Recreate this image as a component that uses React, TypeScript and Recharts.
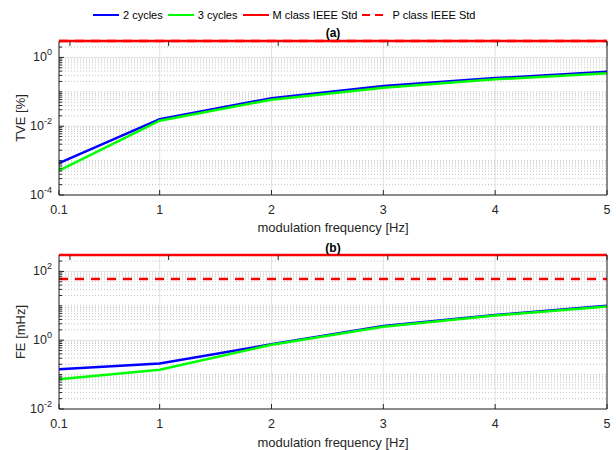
import React from 'react';
import {
  LineChart,
  Line,
  XAxis,
  YAxis,
  CartesianGrid,
  ReferenceLine,
} from 'recharts';

const FONT = '"Liberation Sans", Arial, sans-serif';
const AXIS = '#262626';

// modulation frequency [Hz]
const FREQ = [0.1, 1, 2, 3, 4, 5];

// (a) total vector error [%]
const TVE_2CYC = [8.5e-4, 0.016, 0.065, 0.147, 0.25, 0.385];
const TVE_3CYC = [5.1e-4, 0.0145, 0.059, 0.132, 0.23, 0.345];
const TVE_M_LIMIT = 3;
const TVE_P_LIMIT = 3;

// (b) frequency error [mHz]
const FE_2CYC = [0.143, 0.21, 0.76, 2.6, 5.4, 10.0];
const FE_3CYC = [0.073, 0.138, 0.74, 2.45, 5.2, 9.6];
const FE_M_LIMIT = 300;
const FE_P_LIMIT = 60;

const TVE_MAJOR = [1e-4, 1e-2, 1];
const FE_MAJOR = [1e-2, 1, 1e2];

// all k*10^e inside the domain that are not labelled decades
function minorTicks(lo: number, hi: number, majors: number[]) {
  const out: number[] = [];
  for (let e = Math.floor(Math.log10(lo)); e <= Math.ceil(Math.log10(hi)); e++) {
    for (let k = 1; k < 10; k++) {
      const v = Number((k * Math.pow(10, e)).toPrecision(6));
      if (v > lo && v < hi && !majors.some((m) => Math.abs(m - v) / m < 1e-6)) out.push(v);
    }
  }
  return out;
}

const isMajor = (v: number, majors: number[]) => majors.some((m) => Math.abs(m - v) / m < 1e-6);

type PanelProps = {
  top: number;
  height: number;
  margin: { top: number; bottom: number };
  domain: [number, number];
  majors: number[];
  c2: number[];
  c3: number[];
  mLimit: number;
  pLimit: number;
};

function Panel({ top, height, margin, domain, majors, c2, c3, mLimit, pLimit }: PanelProps) {
  const data = FREQ.map((f, i) => ({ f, c2: c2[i], c3: c3[i], m: mLimit, p: pLimit }));
  const minors = minorTicks(domain[0], domain[1], majors);
  const allTicks = [...minors, ...majors].sort((a, b) => a - b);

  const leftTick = (props: any) => {
    const { x, y, payload } = props;
    const v = payload.value;
    const major = isMajor(v, majors);
    const exp = Math.round(Math.log10(v));
    return (
      <g>
        <line x1={x + 7} x2={x + 7 + (major ? 5 : 3)} y1={y} y2={y} stroke={AXIS} strokeWidth={1} />
        {major && (
          <text x={x} y={y} dy={4} textAnchor="end" fontSize={12.5} fill={AXIS} fontFamily={FONT}>
            10
            <tspan dy={-6} fontSize={9}>
              {exp}
            </tspan>
          </text>
        )}
      </g>
    );
  };

  const rightTick = (props: any) => {
    const { x, y, payload } = props;
    const len = isMajor(payload.value, majors) ? 5 : 3;
    return <line x1={x - len} x2={x} y1={y} y2={y} stroke={AXIS} strokeWidth={1} />;
  };

  const bottomTick = (props: any) => {
    const { x, y, payload } = props;
    return (
      <g>
        <line x1={x} x2={x} y1={y - 5} y2={y} stroke={AXIS} strokeWidth={1} />
        <text x={x} y={y} dy={19} textAnchor="middle" fontSize={12.5} fill={AXIS} fontFamily={FONT}>
          {payload.value}
        </text>
      </g>
    );
  };

  const topTick = (props: any) => {
    const { x, y } = props;
    return <line x1={x} x2={x} y1={y} y2={y + 5} stroke={AXIS} strokeWidth={1} />;
  };

  return (
    <div style={{ position: 'absolute', left: 0, top }}>
      <LineChart
        width={616}
        height={height}
        data={data}
        margin={{ top: margin.top - 10, bottom: margin.bottom - 30, left: 0, right: 0 }}
      >
        <CartesianGrid horizontal={false} stroke="#e2e2e2" strokeDasharray="" />
        {minors.map((v) => (
          <ReferenceLine key={'mi' + v} y={v} stroke="#c4c4c4" strokeDasharray="1 2" />
        ))}
        {majors.map((v) => (
          <ReferenceLine key={'ma' + v} y={v} stroke="#e2e2e2" />
        ))}
        <XAxis
          dataKey="f"
          type="number"
          domain={[FREQ[0], FREQ[FREQ.length - 1]]}
          ticks={FREQ}
          height={30}
          tickSize={0}
          tickMargin={0}
          tickLine={false}
          axisLine={{ stroke: AXIS }}
          tick={bottomTick}
          interval={0}
        />
        {/* top edge is covered by the M class limit line, so only the ticks are drawn */}
        <XAxis
          xAxisId="top"
          orientation="top"
          type="number"
          domain={[FREQ[0], FREQ[FREQ.length - 1]]}
          ticks={FREQ}
          height={10}
          tickSize={0}
          tickMargin={0}
          tickLine={false}
          axisLine={false}
          tick={topTick}
          interval={0}
        />
        <YAxis
          scale="log"
          type="number"
          domain={domain}
          ticks={allTicks}
          width={59}
          tickSize={0}
          tickMargin={7}
          tickLine={false}
          axisLine={{ stroke: AXIS }}
          tick={leftTick}
          interval={0}
        />
        <YAxis
          yAxisId="right"
          orientation="right"
          scale="log"
          type="number"
          domain={domain}
          ticks={allTicks}
          width={9}
          tickSize={0}
          tickMargin={0}
          tickLine={false}
          axisLine={{ stroke: AXIS }}
          tick={rightTick}
          interval={0}
        />
        <Line dataKey="c2" stroke="#0000ff" strokeWidth={2.5} dot={false} isAnimationActive={false} />
        <Line dataKey="c3" stroke="#00ff00" strokeWidth={2.5} dot={false} isAnimationActive={false} />
        <Line dataKey="m" stroke="#ff0000" strokeWidth={2.5} dot={false} isAnimationActive={false} />
        <Line
          dataKey="p"
          stroke="#ff0000"
          strokeWidth={2.5}
          strokeDasharray="9 7"
          dot={false}
          isAnimationActive={false}
        />
      </LineChart>
    </div>
  );
}

const LEGEND = [
  { label: '2 cycles', color: '#0000ff', dash: '' },
  { label: '3 cycles', color: '#00ff00', dash: '' },
  { label: 'M class IEEE Std', color: '#ff0000', dash: '' },
  { label: 'P class IEEE Std', color: '#ff0000', dash: '8 5' },
];

function Legend() {
  return (
    <div
      style={{
        position: 'absolute',
        left: 93,
        top: 7,
        display: 'flex',
        alignItems: 'center',
        fontFamily: FONT,
        fontSize: 11,
        color: '#000',
        whiteSpace: 'nowrap',
      }}
    >
      {LEGEND.map((it) => (
        <div key={it.label} style={{ display: 'flex', alignItems: 'center', marginRight: 5 }}>
          <svg width={26} height={16}>
            <line x1={0} x2={26} y1={8} y2={8} stroke={it.color} strokeWidth={2} strokeDasharray={it.dash} />
          </svg>
          <span style={{ marginLeft: 4 }}>{it.label}</span>
        </div>
      ))}
    </div>
  );
}

const textBase: React.CSSProperties = {
  position: 'absolute',
  fontFamily: FONT,
  color: AXIS,
  whiteSpace: 'nowrap',
  transform: 'translate(-50%, -50%)',
  lineHeight: 1,
};

export default function App() {
  return (
    <div style={{ position: 'absolute', left: 0, top: 0, width: 616, height: 450, background: '#fff' }}>
      <Panel
        top={0}
        height={225}
        margin={{ top: 41, bottom: 30 }}
        domain={[1e-4, 3]}
        majors={TVE_MAJOR}
        c2={TVE_2CYC}
        c3={TVE_3CYC}
        mLimit={TVE_M_LIMIT}
        pLimit={TVE_P_LIMIT}
      />
      <Panel
        top={225}
        height={225}
        margin={{ top: 30, bottom: 41 }}
        domain={[1e-2, 300]}
        majors={FE_MAJOR}
        c2={FE_2CYC}
        c3={FE_3CYC}
        mLimit={FE_M_LIMIT}
        pLimit={FE_P_LIMIT}
      />
      <Legend />
      <div style={{ ...textBase, left: 333, top: 33, fontSize: 12, fontWeight: 'bold', color: '#000' }}>(a)</div>
      <div style={{ ...textBase, left: 333, top: 248, fontSize: 12, fontWeight: 'bold', color: '#000' }}>(b)</div>
      <div style={{ ...textBase, left: 333, top: 227, fontSize: 13 }}>modulation frequency [Hz]</div>
      <div style={{ ...textBase, left: 333, top: 442, fontSize: 13 }}>modulation frequency [Hz]</div>
      <div style={{ ...textBase, left: 20, top: 118, fontSize: 13, transform: 'translate(-50%, -50%) rotate(-90deg)' }}>
        TVE [%]
      </div>
      <div style={{ ...textBase, left: 20, top: 332, fontSize: 13, transform: 'translate(-50%, -50%) rotate(-90deg)' }}>
        FE [mHz]
      </div>
    </div>
  );
}
